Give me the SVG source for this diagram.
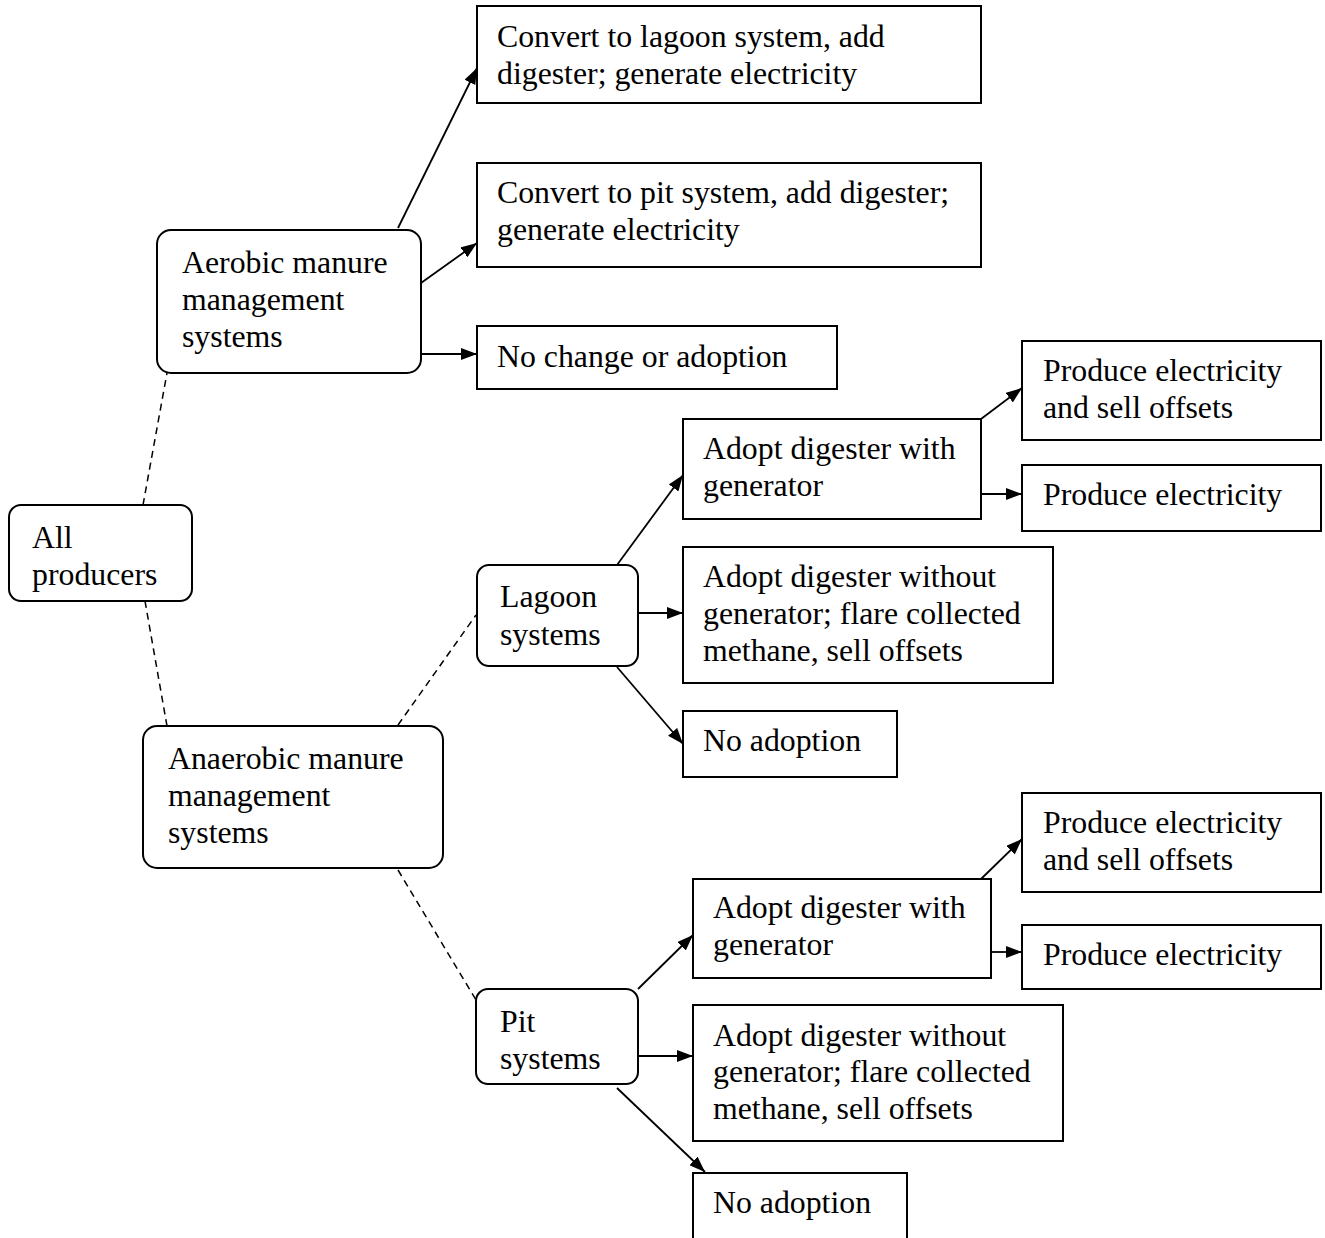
<svg xmlns="http://www.w3.org/2000/svg" width="1325" height="1238" viewBox="0 0 1325 1238">
<style>
text{font-family:"Liberation Serif","Times New Roman",serif;font-size:31.8px;fill:#000}
.b{fill:#fff;stroke:#000;stroke-width:2}
.c{stroke:#000;stroke-width:1.8;fill:none}
.d{stroke:#000;stroke-width:1.5;fill:none;stroke-dasharray:7 5}
</style>
<defs>
<marker id="ah" viewBox="0 0 16 12" refX="16" refY="6" markerWidth="16" markerHeight="12" markerUnits="userSpaceOnUse" orient="auto">
<path d="M0,0 L16,6 L0,12 z" fill="#000"/>
</marker>
</defs>
<rect width="1325" height="1238" fill="#fff"/>
<g id="connectors">
<line class="d" x1="143" y1="505" x2="167" y2="373"/>
<line class="d" x1="145" y1="601" x2="167" y2="726"/>
<line class="d" x1="398" y1="725" x2="476" y2="615"/>
<line class="d" x1="398" y1="870" x2="476" y2="1000"/>
<line class="c" x1="398" y1="228" x2="477" y2="68" marker-end="url(#ah)"/>
<line class="c" x1="421" y1="283" x2="477" y2="243" marker-end="url(#ah)"/>
<line class="c" x1="421" y1="354" x2="477" y2="354" marker-end="url(#ah)"/>
<line class="c" x1="617" y1="565" x2="683" y2="475" marker-end="url(#ah)"/>
<line class="c" x1="638" y1="613" x2="683" y2="613" marker-end="url(#ah)"/>
<line class="c" x1="617" y1="667" x2="683" y2="744" marker-end="url(#ah)"/>
<line class="c" x1="981" y1="419" x2="1022" y2="388" marker-end="url(#ah)"/>
<line class="c" x1="981" y1="494" x2="1022" y2="494" marker-end="url(#ah)"/>
<line class="c" x1="638" y1="989" x2="693" y2="935" marker-end="url(#ah)"/>
<line class="c" x1="638" y1="1056" x2="693" y2="1056" marker-end="url(#ah)"/>
<line class="c" x1="617" y1="1088" x2="705" y2="1172" marker-end="url(#ah)"/>
<line class="c" x1="981" y1="879" x2="1022" y2="839" marker-end="url(#ah)"/>
<line class="c" x1="991" y1="952" x2="1022" y2="952" marker-end="url(#ah)"/>
</g>
<g id="all"><rect class="b" x="9" y="505" width="183" height="96" rx="12"/><text x="32" y="548">All</text><text x="32" y="585">producers</text></g>
<g id="aerobic"><rect class="b" x="157" y="230" width="264" height="143" rx="14"/><text x="182" y="273">Aerobic manure</text><text x="182" y="310">management</text><text x="182" y="347">systems</text></g>
<g id="anaerobic"><rect class="b" x="143" y="726" width="300" height="142" rx="14"/><text x="168" y="769">Anaerobic manure</text><text x="168" y="806">management</text><text x="168" y="843">systems</text></g>
<g id="convLagoon"><rect class="b" x="477" y="6" width="504" height="97"/><text x="497" y="47">Convert to lagoon system, add</text><text x="497" y="84">digester; generate electricity</text></g>
<g id="convPit"><rect class="b" x="477" y="163" width="504" height="104"/><text x="497" y="203">Convert to pit system, add digester;</text><text x="497" y="240">generate electricity</text></g>
<g id="noChange"><rect class="b" x="477" y="326" width="360" height="63"/><text x="497" y="367">No change or adoption</text></g>
<g id="lagoon"><rect class="b" x="477" y="565" width="161" height="101" rx="12"/><text x="500" y="607">Lagoon</text><text x="500" y="645">systems</text></g>
<g id="lagWith"><rect class="b" x="683" y="419" width="298" height="100"/><text x="703" y="459">Adopt digester with</text><text x="703" y="496">generator</text></g>
<g id="lagSell"><rect class="b" x="1022" y="341" width="299" height="99"/><text x="1043" y="381">Produce electricity</text><text x="1043" y="418">and sell offsets</text></g>
<g id="lagElec"><rect class="b" x="1022" y="465" width="299" height="66"/><text x="1043" y="505">Produce electricity</text></g>
<g id="lagWithout"><rect class="b" x="683" y="547" width="370" height="136"/><text x="703" y="587">Adopt digester without</text><text x="703" y="624">generator; flare collected</text><text x="703" y="661">methane, sell offsets</text></g>
<g id="lagNo"><rect class="b" x="683" y="711" width="214" height="66"/><text x="703" y="751">No adoption</text></g>
<g id="pit"><rect class="b" x="476" y="989" width="162" height="95" rx="12"/><text x="500" y="1032">Pit</text><text x="500" y="1069">systems</text></g>
<g id="pitWith"><rect class="b" x="693" y="879" width="298" height="99"/><text x="713" y="918">Adopt digester with</text><text x="713" y="955">generator</text></g>
<g id="pitSell"><rect class="b" x="1022" y="793" width="299" height="99"/><text x="1043" y="833">Produce electricity</text><text x="1043" y="870">and sell offsets</text></g>
<g id="pitElec"><rect class="b" x="1022" y="925" width="299" height="64"/><text x="1043" y="965">Produce electricity</text></g>
<g id="pitWithout"><rect class="b" x="693" y="1005" width="370" height="136"/><text x="713" y="1046">Adopt digester without</text><text x="713" y="1082">generator; flare collected</text><text x="713" y="1119">methane, sell offsets</text></g>
<g id="pitNo"><rect class="b" x="693" y="1173" width="214" height="80"/><text x="713" y="1213">No adoption</text></g>
</svg>
